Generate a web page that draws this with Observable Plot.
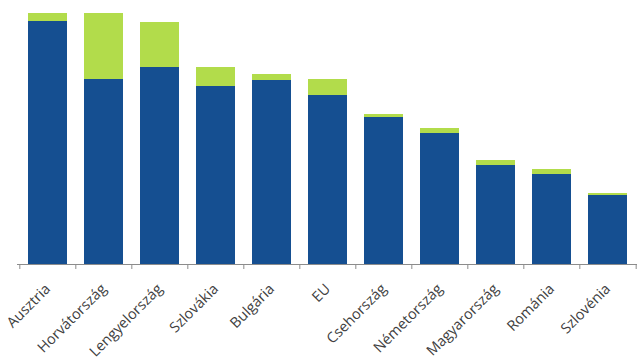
<!DOCTYPE html>
<html>
<head>
<meta charset="utf-8">
<script src="https://cdn.jsdelivr.net/npm/d3@7"></script>
<script src="https://cdn.jsdelivr.net/npm/@observablehq/plot@0.6"></script>
<style>
  html, body { margin: 0; padding: 0; background: #fff; }
  #chart svg text { font-family: "Open Sans", sans-serif !important; font-size: 14.5px !important; fill: #404040; }
</style>
</head>
<body>
<div id="chart"></div>
<script>
const categories = ["Ausztria", "Horvátország", "Lengyelország", "Szlovákia", "Bulgária", "EU", "Csehország", "Németország", "Magyarország", "Románia", "Szlovénia"];
const baseValues = [243, 185, 197, 178, 184, 169, 147, 131, 99, 90, 69];
const extraValues = [8, 66, 45, 19, 6, 16, 3, 5, 5, 5, 2];
const seriesNames = ["alap", "többlet"];
const seriesColors = ["#154f91", "#b2dc4b"];

const data = [];
categories.forEach((c, i) => {
  data.push({category: c, series: seriesNames[0], value: baseValues[i]});
  data.push({category: c, series: seriesNames[1], value: extraValues[i]});
});

const width = 644, height = 364;
const marginLeft = 17, marginRight = 7, marginTop = 13, marginBottom = 100;
const step = (width - marginLeft - marginRight) / categories.length;

const chart = Plot.plot({
  width, height, marginLeft, marginRight, marginTop, marginBottom,
  style: {fontFamily: "'Open Sans', sans-serif", fontSize: "14.5px", color: "#404040", background: "#fff"},
  x: {domain: categories, paddingInner: 0.31, paddingOuter: 0.155, label: null},
  y: {domain: [0, 251], axis: null},
  color: {domain: seriesNames, range: seriesColors},
  marks: [
    Plot.barY(data, Plot.stackY({x: "category", y: "value", fill: "series", order: seriesNames})),
    Plot.ruleY([0], {stroke: "#8c8c8c", strokeWidth: 1}),
    Plot.axisX(categories, {tickSize: 5, dx: -step / 2, text: null, stroke: "#8c8c8c"}),
    Plot.axisX([categories[categories.length - 1]], {tickSize: 5, dx: step / 2, text: null, stroke: "#8c8c8c"}),
    Plot.axisX({tickSize: 0, tickRotate: -45, tickPadding: 22, fill: "#404040", label: null})
  ]
});
document.getElementById("chart").appendChild(chart);
</script>
</body>
</html>
